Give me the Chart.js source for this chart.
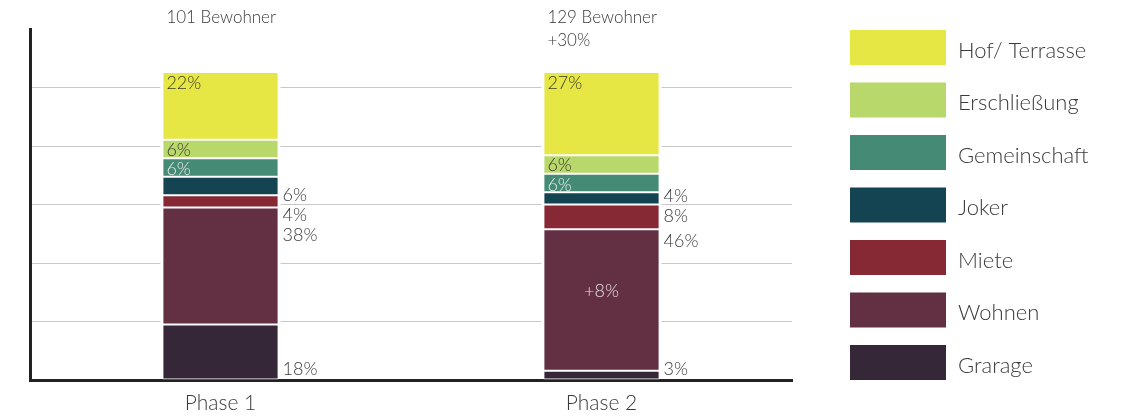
<!DOCTYPE html>
<html lang="de">
<head>
<meta charset="utf-8">
<title>Flächenverteilung Phase 1 / Phase 2</title>
<script src="https://cdn.jsdelivr.net/npm/chart.js@4.4.1/dist/chart.umd.min.js"></script>
<style>
    html, body { margin: 0; padding: 0; background: #fff; }
    #wrap { position: relative; width: 1131px; height: 416px; }
</style>
</head>
<body>
<div id="wrap"><canvas id="flaechenChart" width="1131" height="416"></canvas></div>
<script>
// Kategorien und Anteile (%) je Phase
const phasen = ['Phase 1', 'Phase 2'];
const bewohner = ['101 Bewohner', '129 Bewohner'];
const bewohnerZuwachs = ['', '+30%'];
const wohnenZuwachs = ['', '+8%'];

const garage = [18, 3];
const wohnen = [38, 46];
const miete = [4, 8];
const joker = [6, 4];
const gemeinschaft = [6, 6];
const erschliessung = [6, 6];
const hofTerrasse = [22, 27];

// Achse
const yMax = 114;
const yStep = 19;

const FONT = "'Lato', 'Open Sans', sans-serif";
const TEXT = '#3a3a3a';

// Position der Prozent-Beschriftung: innen oben links oder rechts neben dem Balken
const serien = [
    { label: 'Grarage',       data: garage,        color: '#352737', pos: 'right', anchor: 'bottom', dy: [-10, -10] },
    { label: 'Wohnen',        data: wohnen,        color: '#632f43', pos: 'right', anchor: 'top',    dy: [28, 12] },
    { label: 'Miete',         data: miete,         color: '#862935', pos: 'right', anchor: 'top',    dy: [20, 12] },
    { label: 'Joker',         data: joker,         color: '#144452', pos: 'right', anchor: 'top',    dy: [18, 4] },
    { label: 'Gemeinschaft',  data: gemeinschaft,  color: '#458a74', pos: 'inside', text: '#e4ece8', dy: [11, 11] },
    { label: 'Erschließung',  data: erschliessung, color: '#b8d86b', pos: 'inside', text: '#3a3a2a', dy: [10, 10] },
    { label: 'Hof/ Terrasse', data: hofTerrasse,   color: '#e6e645', pos: 'inside', text: '#3a3a2a', dy: [11, 11] }
];

// Gitterlinien hinter den Balken aussparen
const balkenLuecke = {
    id: 'balkenLuecke',
    beforeDatasetsDraw(chart) {
        const { ctx, chartArea } = chart;
        const meta = chart.getDatasetMeta(0);
        ctx.save();
        ctx.fillStyle = '#fff';
        meta.data.forEach(bar => {
            ctx.fillRect(bar.x - bar.width / 2 - 2, chartArea.top, bar.width + 4, chartArea.bottom - chartArea.top - 2);
        });
        ctx.restore();
    }
};

// Prozentwerte, Bewohnerzahlen und Legende
const beschriftung = {
    id: 'beschriftung',
    afterDatasetsDraw(chart) {
        const { ctx } = chart;
        ctx.save();
        ctx.textBaseline = 'middle';

        chart.data.datasets.forEach((ds, di) => {
            const meta = chart.getDatasetMeta(di);
            meta.data.forEach((bar, i) => {
                const txt = ds.data[i] + '%';
                const links = bar.x - bar.width / 2;
                const rechts = bar.x + bar.width / 2;
                const oben = Math.min(bar.y, bar.base);
                const unten = Math.max(bar.y, bar.base);
                ctx.font = '300 18px ' + FONT;
                ctx.textAlign = 'left';
                if (ds.pos === 'inside') {
                    ctx.fillStyle = ds.text;
                    ctx.fillText(txt, links + 4, oben + ds.dy[i]);
                } else {
                    ctx.fillStyle = TEXT;
                    const y = ds.anchor === 'bottom' ? unten + ds.dy[i] : oben + ds.dy[i];
                    ctx.fillText(txt, rechts + 4, y);
                }
            });
        });

        // Zuwachs Wohnen in der Balkenmitte
        const wMeta = chart.getDatasetMeta(1);
        wMeta.data.forEach((bar, i) => {
            if (!wohnenZuwachs[i]) return;
            ctx.fillStyle = '#e6dde1';
            ctx.textAlign = 'center';
            ctx.font = '300 18px ' + FONT;
            ctx.fillText(wohnenZuwachs[i], bar.x, (bar.y + bar.base) / 2 - 9);
        });

        // Bewohner über den Balken
        const basisMeta = chart.getDatasetMeta(0);
        basisMeta.data.forEach((bar, i) => {
            const x = bar.x - bar.width / 2 + 4;
            ctx.fillStyle = TEXT;
            ctx.textAlign = 'left';
            ctx.font = '300 17px ' + FONT;
            ctx.fillText(bewohner[i], x, 18);
            if (bewohnerZuwachs[i]) ctx.fillText(bewohnerZuwachs[i], x, 41);
        });

        // Legende rechts, oberste Kategorie zuerst
        const lx = 850, ly = 30, bw = 96, bh = 35, abstand = 52.5;
        [...chart.data.datasets].reverse().forEach((ds, k) => {
            const y = ly + k * abstand;
            ctx.fillStyle = ds.backgroundColor;
            ctx.fillRect(lx, y, bw, bh);
            ctx.fillStyle = TEXT;
            ctx.textAlign = 'left';
            ctx.font = '300 22px ' + FONT;
            ctx.fillText(ds.label, lx + 108, y + bh / 2 + 3);
        });

        ctx.restore();
    }
};

const ctx = document.getElementById('flaechenChart');

new Chart(ctx, {
    type: 'bar',
    data: {
        labels: phasen,
        datasets: serien.map(s => ({
            label: s.label,
            data: s.data,
            backgroundColor: s.color,
            borderColor: '#ffffff',
            borderWidth: 1,
            borderSkipped: false,
            barPercentage: 0.305,
            categoryPercentage: 1,
            pos: s.pos,
            anchor: s.anchor,
            text: s.text,
            dy: s.dy
        }))
    },
    options: {
        responsive: false,
        animation: false,
        events: [],
        layout: { padding: { left: 30, right: 339, top: 29, bottom: 0 } },
        plugins: {
            legend: { display: false },
            tooltip: { enabled: false }
        },
        scales: {
            x: {
                stacked: true,
                grid: { display: false },
                border: { display: true, color: '#222', width: 3 },
                ticks: {
                    color: TEXT,
                    padding: 3,
                    font: { family: FONT, size: 21, weight: '300' }
                },
                afterFit(scale) { scale.height = 36; }
            },
            y: {
                stacked: true,
                min: 0,
                max: yMax,
                ticks: { display: false, stepSize: yStep },
                grid: {
                    drawTicks: false,
                    lineWidth: 1,
                    color: c => (c.tick && c.tick.value === yMax) ? 'rgba(0,0,0,0)' : '#c8c8c8'
                },
                border: { display: true, color: '#222', width: 3 },
                afterFit(scale) { scale.width = 0; }
            }
        }
    },
    plugins: [balkenLuecke, beschriftung]
});
</script>
</body>
</html>
